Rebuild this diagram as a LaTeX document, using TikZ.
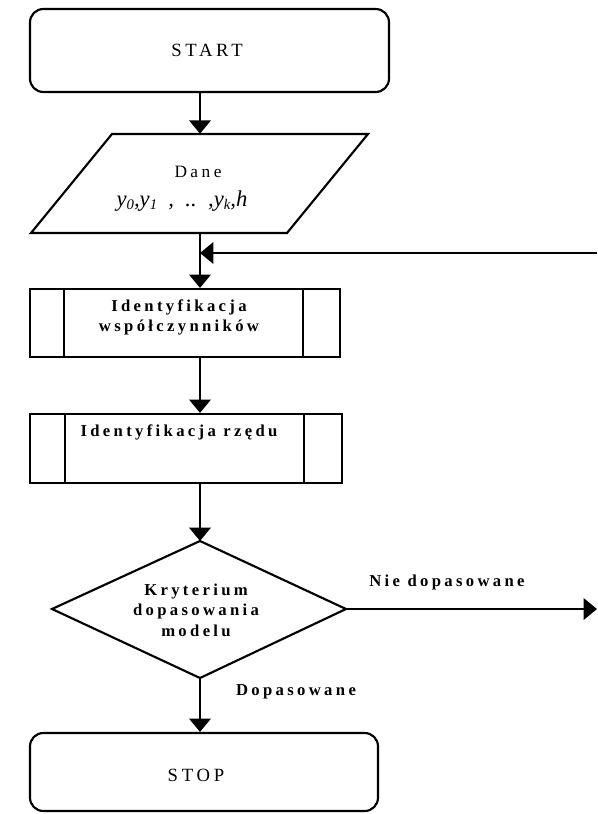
\documentclass[tikz,border=0pt]{standalone}
\usepackage{fontspec}
\setmainfont{Liberation Serif}
\newfontfamily\lsp{Liberation Serif}[LetterSpace=20]
\usetikzlibrary{arrows.meta}
\newcommand{\subs}[1]{\raisebox{-0.25ex}{\fontsize{11}{12}\selectfont #1}}
\begin{document}
\begin{tikzpicture}[x=0.75pt,y=-0.75pt,
  box/.style={draw, line width=1.6pt, inner sep=0pt},
  outline/.style={line width=1.6pt, line join=miter},
  arr/.style={line width=1.9pt, -{Triangle[width=16pt,length=10pt]}},
  big/.style={font=\lsp\fontsize{14}{16}\selectfont, inner sep=0pt},
  txt/.style={font=\lsp\fontsize{12.5}{15.5}\selectfont\bfseries, align=center, inner sep=0pt},
  lbl/.style={font=\lsp\fontsize{12.5}{14}\selectfont\bfseries, inner sep=0pt}]
\useasboundingbox (0,0) rectangle (597,814);
\coordinate (ax) at (200,0);

% START
\node[box, rounded corners=10pt, minimum width=269.25pt, minimum height=62.25pt] (start) at (209.5,50.5) {};
\node[big] (starttxt) at (207,50) {START};

% Data (parallelogram)
\draw[outline] (112,134) -- (368,134) -- (287,233) -- (31,233) -- cycle;
\node[minimum width=150pt, minimum height=74.25pt, inner sep=0pt] (data) at (199.5,183.5) {};
\node[font=\lsp\fontsize{13}{15}\selectfont, inner sep=0pt] (danetxt) at (198,172) {Dane};
\node[font=\fontsize{17}{19}\selectfont\itshape, inner sep=0pt] (vals) at (182,201)
  {y\subs{0},y\subs{1}\ \ ,\ \ ..\ \ ,y\subs{k},h};

% Box 1
\node[box, minimum width=232.5pt, minimum height=51pt] (box1) at (185,323) {};
\draw[outline] (64,289) -- (64,357);
\draw[outline] (303,289) -- (303,357);
\node[txt] (box1txt) at (179,317.5) {Identyfikacja\\współczynników};

% Box 2
\node[box, minimum width=234pt, minimum height=51.75pt] (box2) at (186,448.5) {};
\draw[outline] (65,414) -- (65,483);
\draw[outline] (304,414) -- (304,483);
\node[txt] (box2txt) at (179,432) {Identyfikacja rzędu};

% Decision
\coordinate (dtop) at (200,541);
\coordinate (dright) at (346,609);
\coordinate (dbot) at (200,678);
\coordinate (dleft) at (52,609);
\draw[outline] (dtop) -- (dright) -- (dbot) -- (dleft) -- cycle;
\node[txt] (dectxt) at (196,610) {Kryterium\\dopasowania\\modelu};

% STOP
\node[box, rounded corners=10pt, minimum width=261pt, minimum height=58.5pt] (stop) at (204,772) {};
\node[big] (stoptxt) at (196,775) {STOP};

% Connectors
\draw[arr] (start.south -| ax) -- (data.north -| ax);
\draw[arr] (data.south -| ax) -- (box1.north -| ax);
\coordinate (fbr) at (597,253);
\draw[arr] (fbr) -- (fbr -| ax);
\draw[arr] (box1.south -| ax) -- (box2.north -| ax);
\draw[arr] (box2.south -| ax) -- (dtop);
\draw[arr] (dbot) -- (stop.north -| ax);
\coordinate (nout) at (597,609);
\draw[arr] (dright) -- (nout);

\node[lbl] (nie) at (447,582) {Nie dopasowane};
\node[lbl] (dop) at (296,692) {Dopasowane};
\end{tikzpicture}
\end{document}
